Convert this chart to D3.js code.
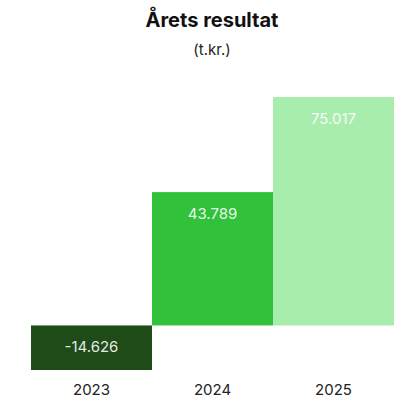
<!DOCTYPE html>
<html>
<head>
<meta charset="utf-8">
<script src="https://cdn.jsdelivr.net/npm/d3@7"></script>
<style>
  body { margin: 0; background: #fff; }
  text { font-family: Inter, "Noto Sans", sans-serif; }
</style>
</head>
<body>
<div id="chart"></div>
<script>
const years = ["2023", "2024", "2025"];
const values = [-14.626, 43.789, 75.017];
const valueLabels = ["-14.626", "43.789", "75.017"];
const colors = ["#1e4b17", "#32c13b", "#a8ecae"];

const width = 400;
const height = 403;
const margin = { top: 97, right: 6, bottom: 33, left: 31 };

const svg = d3.select("#chart")
  .append("svg")
  .attr("width", width)
  .attr("height", height);

svg.append("text")
  .attr("x", 212)
  .attr("y", 27)
  .attr("text-anchor", "middle")
  .attr("font-size", 20)
  .attr("font-weight", "bold")
  .attr("fill", "#111")
  .text("Årets resultat");

svg.append("text")
  .attr("x", 212)
  .attr("y", 55)
  .attr("text-anchor", "middle")
  .attr("font-size", 15)
  .attr("fill", "#222")
  .text("(t.kr.)");

const x = d3.scaleBand()
  .domain(years)
  .range([margin.left, width - margin.right])
  .padding(0);

const y = d3.scaleLinear()
  .domain([d3.min(values), d3.max(values)])
  .range([height - margin.bottom, margin.top]);

const data = years.map((d, i) => ({ year: d, value: values[i], label: valueLabels[i], color: colors[i] }));

svg.selectAll(".bar")
  .data(data)
  .join("rect")
  .attr("class", "bar")
  .attr("x", d => x(d.year))
  .attr("width", x.bandwidth())
  .attr("y", d => Math.min(y(d.value), y(0)))
  .attr("height", d => Math.abs(y(d.value) - y(0)))
  .attr("fill", d => d.color);

// value labels near the top of each bar
svg.selectAll(".val")
  .data(data)
  .join("text")
  .attr("class", "val")
  .attr("x", d => x(d.year) + x.bandwidth() / 2)
  .attr("y", d => Math.min(y(d.value), y(0)) + 27)
  .attr("text-anchor", "middle")
  .attr("font-size", 15)
  .attr("fill", "rgba(255,255,255,0.9)")
  .text(d => d.label);

const xAxis = svg.append("g")
  .attr("transform", `translate(0, ${height - margin.bottom})`)
  .call(d3.axisBottom(x).tickSize(0).tickPadding(14));
xAxis.select(".domain").remove();
xAxis.selectAll("text")
  .attr("font-size", 15)
  .attr("fill", "#222")
  .attr("font-family", "Inter, 'Noto Sans', sans-serif");
</script>
</body>
</html>
